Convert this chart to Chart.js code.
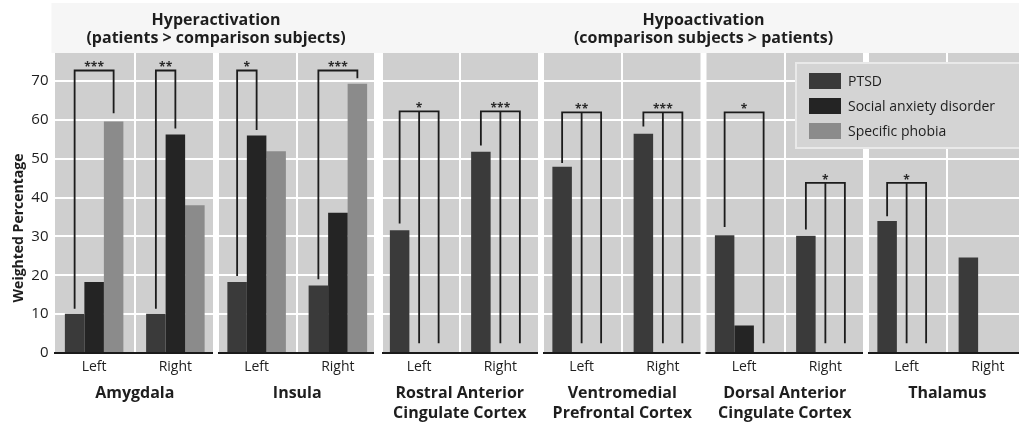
<!DOCTYPE html>
<html><head><meta charset="utf-8">
<script src="https://cdn.jsdelivr.net/npm/chart.js@4"></script>
<style>
html,body{margin:0;padding:0;background:#fff;overflow:hidden;width:1019px;height:426px}
#wrap{position:absolute;left:0;top:0;width:1040px;height:426px}
</style></head><body>
<div id="wrap"><canvas id="c" width="1040" height="426"></canvas></div>
<script>
// ---- data ----
const sides = ['Left','Right','Left','Right','Left','Right','Left','Right','Left','Right','Left','Right'];
const regions = [['Amygdala'],['Insula'],['Rostral Anterior','Cingulate Cortex'],['Ventromedial','Prefrontal Cortex'],['Dorsal Anterior','Cingulate Cortex'],['Thalamus']];
const groupTitles = [['Hyperactivation','(patients > comparison subjects)'],['Hypoactivation','(comparison subjects > patients)']];
const seriesNames = ['PTSD','Social anxiety disorder','Specific phobia'];
const ptsd           = [10.1, 10.1, 18.3, 17.4, 31.6, 51.8, 47.9, 56.4, 30.3, 30.2, 34.0, 24.6];
const socialAnxiety  = [18.3, 56.2, 56.0, 36.1, null, null, null, null, 7.1, null, null, null];
const specificPhobia = [59.6, 38.0, 51.9, 69.3, null, null, null, null, null, null, null, null];
const yTicks = [0,10,20,30,40,50,60,70];
const yTitle = 'Weighted Percentage';
// significance brackets: category index, stars, top value, legs [seriesIndex, end value]
const bracketCategory = [0,1,2,3,4,5,6,7,8,9,10];
const bracketStars = ['***','**','*','***','*','***','**','***','*','*','*'];
const bracketTop = [72.7,72.7,72.7,72.7,62.2,62.2,61.9,61.9,61.9,43.8,43.8];
const bracketLegs = [
  [[0,11.4],[2,61.7]],
  [[0,11.4],[1,57.8]],
  [[0,19.8],[1,57.4]],
  [[0,19.0],[2,70.7]],
  [[0,33.3],[1,2.5],[2,2.5]],
  [[0,53.4],[1,2.5],[2,2.5]],
  [[0,48.9],[1,2.5],[2,2.5]],
  [[0,58.3],[1,2.5],[2,2.5]],
  [[0,32.4],[2,2.5]],
  [[0,31.8],[1,2.5],[2,2.5]],
  [[0,35.2],[1,2.5],[2,2.5]]
];
const seriesColors = ['#3a3a3a','#242424','#8b8b8b'];

const FONT = "'Open Sans', sans-serif";
const TXT = '#1e1e1e';

const decor = {
  id: 'decor',
  beforeDraw(chart) {
    const {ctx, chartArea: a, scales} = chart;
    const y = scales.y;
    const cw = (a.right - a.left) / sides.length;
    ctx.save();
    ctx.fillStyle = '#f6f6f6';
    ctx.fillRect(a.left - 2, 3, chart.width, a.top - 3);
    ctx.fillStyle = '#cfcfcf';
    const y0 = y.getPixelForValue(0);
    for (let p = 0; p < regions.length; p++) {
      const l = a.left + p * 2 * cw, r = l + 2 * cw;
      const li = p === 0 ? 1.5 : (p === 2 ? 4.5 : 3);
      const ri = p === 1 ? 4.5 : 3;
      ctx.fillRect(l + li, a.top, r - ri - l - li, y0 - a.top);
    }
    ctx.restore();
  },
  afterDatasetsDraw(chart) {
    const {ctx, chartArea: a, scales} = chart;
    const y = scales.y;
    const cw = (a.right - a.left) / sides.length;
    const y0 = y.getPixelForValue(0);
    ctx.save();
    // baselines
    ctx.strokeStyle = '#1a1a1a'; ctx.lineWidth = 2;
    for (let p = 0; p < regions.length; p++) {
      const l = a.left + p * 2 * cw, r = l + 2 * cw;
      const li = p === 0 ? 1.5 : (p === 2 ? 4.5 : 3);
      const ri = p === 1 ? 4.5 : 3;
      ctx.beginPath(); ctx.moveTo(l + li - 1, y0); ctx.lineTo(r - ri, y0); ctx.stroke();
    }
    // brackets
    const meta0 = chart.getDatasetMeta(0);
    ctx.strokeStyle = '#1c1c1c'; ctx.lineWidth = 1.8; ctx.lineCap = 'butt';
    ctx.fillStyle = '#2a2a2a';
    ctx.font = "bold 12px " + FONT; ctx.textAlign = 'center'; ctx.textBaseline = 'alphabetic';
    bracketCategory.forEach((c, i) => {
      const bar = meta0.data[c];
      const bw = bar.width;
      const legs = bracketLegs[i];
      const yt = y.getPixelForValue(bracketTop[i]);
      const xs = legs.map(l => bar.x + l[0] * bw);
      ctx.beginPath();
      ctx.moveTo(xs[0], y.getPixelForValue(legs[0][1]));
      ctx.lineTo(xs[0], yt);
      ctx.lineTo(xs[xs.length - 1], yt);
      ctx.lineTo(xs[xs.length - 1], y.getPixelForValue(legs[legs.length - 1][1]));
      for (let k = 1; k < legs.length - 1; k++) {
        ctx.moveTo(xs[k], yt); ctx.lineTo(xs[k], y.getPixelForValue(legs[k][1]));
      }
      ctx.stroke();
      ctx.fillText(bracketStars[i], (xs[0] + xs[xs.length - 1]) / 2, yt + 1);
    });
    // legend box
    const lx = 796, ly = 63;
    ctx.fillStyle = '#d4d4d4';
    ctx.fillRect(lx, ly, chart.width - lx, 85);
    ctx.strokeStyle = '#e9e9e9'; ctx.lineWidth = 2;
    ctx.strokeRect(lx, ly, chart.width - lx + 5, 85);
    ctx.font = "14px " + FONT; ctx.textAlign = 'left'; ctx.textBaseline = 'middle';
    chart.data.datasets.forEach((ds, i) => {
      const cy = ly + 18 + i * 25;
      ctx.fillStyle = ds.backgroundColor;
      ctx.fillRect(lx + 13, cy - 8, 32, 16);
      ctx.fillStyle = TXT;
      ctx.fillText(ds.label, lx + 52, cy + 1);
    });
    ctx.restore();
  },
  afterDraw(chart) {
    const {ctx, chartArea: a} = chart;
    const cw = (a.right - a.left) / sides.length;
    ctx.save();
    ctx.fillStyle = TXT;
    ctx.font = "bold 16px " + FONT; ctx.textAlign = 'center'; ctx.textBaseline = 'middle';
    const spans = [[a.left, a.left + 4 * cw], [a.left + 4 * cw, a.right]];
    groupTitles.forEach((t, i) => {
      const cx = (spans[i][0] + spans[i][1]) / 2;
      ctx.fillText(t[0], cx, 20);
      ctx.fillText(t[1], cx, 38);
    });
    ctx.translate(19, 228); ctx.rotate(-Math.PI / 2);
    ctx.font = "bold 14px " + FONT;
    ctx.fillText(yTitle, 0, 0);
    ctx.restore();
  }
};

Chart.defaults.font.family = FONT;
new Chart(document.getElementById('c'), {
  type: 'bar',
  data: {
    labels: sides,
    datasets: [
      {label: seriesNames[0], data: ptsd, backgroundColor: seriesColors[0]},
      {label: seriesNames[1], data: socialAnxiety, backgroundColor: seriesColors[1]},
      {label: seriesNames[2], data: specificPhobia, backgroundColor: seriesColors[2]}
    ]
  },
  options: {
    responsive: false, animation: false, devicePixelRatio: 1,
    layout: {padding: {top: 53, right: 11.5, left: 0, bottom: 0}},
    datasets: {bar: {barPercentage: 1, categoryPercentage: 0.72, borderWidth: 0}},
    plugins: {legend: {display: false}, tooltip: {enabled: false}, title: {display: false}},
    scales: {
      x: {
        type: 'category', position: 'bottom', offset: true, weight: 0,
        grid: {color: '#ffffff', lineWidth: 2, drawTicks: false, offset: true},
        border: {display: false},
        ticks: {font: {size: 14}, color: TXT, padding: 6, maxRotation: 0, autoSkip: false},
        afterFit(s) { s.height = 22; }
      },
      x2: {
        type: 'category', position: 'bottom', offset: true, weight: 1,
        labels: regions,
        grid: {display: false, drawTicks: false},
        border: {display: false},
        ticks: {font: {size: 16, weight: 'bold', lineHeight: 1.25}, color: TXT, padding: 8, maxRotation: 0, autoSkip: false},
        afterFit(s) { s.height = 51; }
      },
      y: {
        min: 0, max: 77.2,
        grid: {color: '#ffffff', lineWidth: 2, drawTicks: false},
        border: {display: false},
        afterBuildTicks(s) { s.ticks = yTicks.map(v => ({value: v})); },
        ticks: {font: {size: 15}, color: TXT, padding: 5, includeBounds: false},
        afterFit(s) { s.width = 53.5; }
      }
    }
  },
  plugins: [decor]
});
</script>
</body></html>
